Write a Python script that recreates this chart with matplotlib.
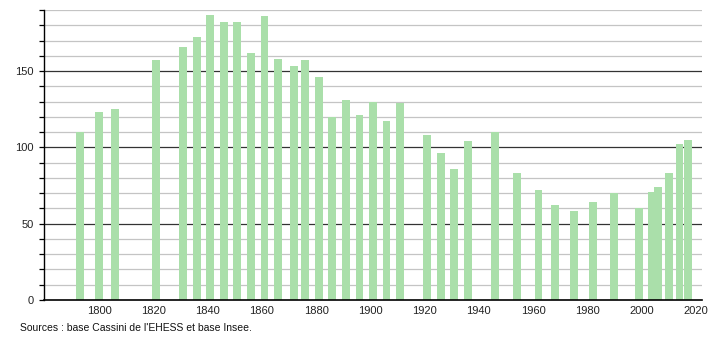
import matplotlib
matplotlib.use("Agg")
import matplotlib.pyplot as plt

years = [1793, 1800, 1806, 1821, 1831, 1836, 1841, 1846, 1851, 1856, 1861, 1866,
         1872, 1876, 1881, 1886, 1891, 1896, 1901, 1906, 1911, 1921, 1926, 1931,
         1936, 1946, 1954, 1962, 1968, 1975, 1982, 1990, 1999, 2004, 2006, 2010,
         2014, 2017]
population = [110, 123, 125, 157, 166, 172, 187, 182, 182, 162, 186, 158,
              153, 157, 146, 120, 131, 121, 130, 117, 129, 108, 96, 86,
              104, 110, 83, 72, 62, 58, 64, 70, 60, 71, 74, 83,
              102, 105]
x_ticks = [1800, 1820, 1840, 1860, 1880, 1900, 1920, 1940, 1960, 1980, 2000, 2020]
y_labels = [0, 50, 100, 150]
source_text = "Sources : base Cassini de l'EHESS et base Insee."

plt.rcParams['font.family'] = ['Liberation Sans', 'DejaVu Sans']

fig = plt.figure(figsize=(7.1, 3.4), dpi=100)
ax = fig.add_axes([44 / 710, 40 / 340, 658 / 710, 290 / 340])

ax.set_xlim(1779.7, 2022.3)
ax.set_ylim(0, 190)

# gridlines
for v in range(10, 191, 10):
    if v % 50 == 0:
        ax.axhline(v, color='#333333', lw=0.9, zorder=1)
    else:
        ax.axhline(v, color='#c4c4c4', lw=0.9, zorder=1)

ax.bar(years, population, width=2.9, color='#aadfaa', edgecolor='none', zorder=2)

ax.set_yticks(range(0, 191, 10))
ax.set_yticklabels([str(v) if v in y_labels else '' for v in range(0, 191, 10)])
ax.set_xticks(x_ticks)
ax.set_xticklabels([str(v) for v in x_ticks])

ax.tick_params(axis='y', length=3.5, width=0.9, color='black', labelsize=8,
               labelcolor='#222222', pad=4)
ax.tick_params(axis='x', length=0, labelsize=8, labelcolor='#222222', pad=4)

for s in ['top', 'right']:
    ax.spines[s].set_visible(False)
ax.spines['left'].set_linewidth(1.0)
ax.spines['bottom'].set_linewidth(1.2)

fig.text(20 / 710, 1 - 328 / 340, source_text, fontsize=7.5, color='#111111',
         va='center', ha='left')

fig.savefig('out.png', dpi=100)
